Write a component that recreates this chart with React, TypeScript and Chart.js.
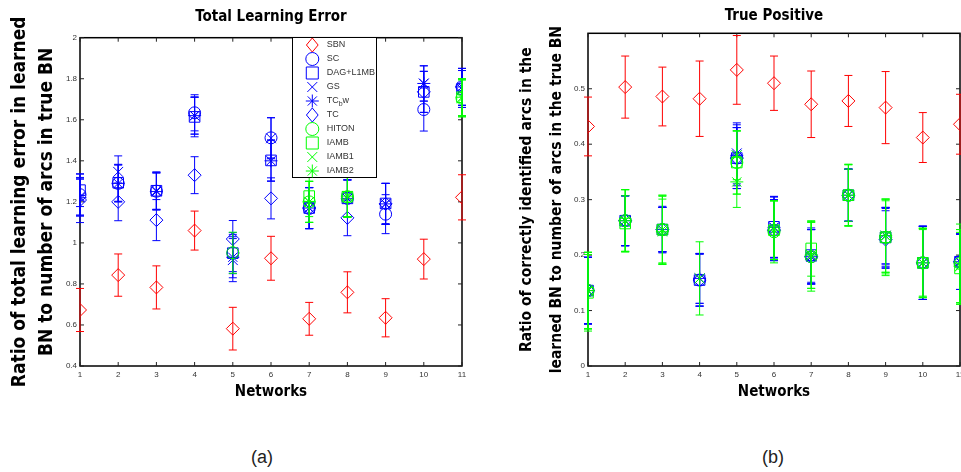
import React, { useEffect, useRef } from 'react';
import { Chart, registerables } from 'chart.js';

Chart.register(...registerables);

// ---------- data ----------
const networks = [1, 2, 3, 4, 5, 6, 7, 8, 9, 10, 11];
const tleTicks = [0.4, 0.6, 0.8, 1, 1.2, 1.4, 1.6, 1.8, 2];
const tpTicks = [0, 0.1, 0.2, 0.3, 0.4, 0.5];

const seriesNames = ['SBN', 'SC', 'DAG+L1MB', 'GS', 'TCbw', 'TC', 'HITON', 'IAMB', 'IAMB1', 'IAMB2'];

// (a) Total Learning Error
const tleSBN = [0.673, 0.843, 0.783, 1.06, 0.582, 0.925, 0.63, 0.759, 0.635, 0.921, 1.222];
const tleSBNErr = [0.105, 0.103, 0.105, 0.095, 0.104, 0.107, 0.08, 0.1, 0.093, 0.097, 0.11];
const tleSC = [1.235, 1.29, 1.252, 1.634, 0.95, 1.512, 1.168, 1.217, 1.14, 1.65, 1.761];
const tleSCErr = [0.1, 0.09, 0.09, 0.088, 0.09, 0.098, 0.1, 0.09, 0.095, 0.105, 0.09];
const tleDAG = [1.257, 1.293, 1.254, 1.614, 0.95, 1.402, 1.17, 1.217, 1.192, 1.736, 1.75];
const tleDAGErr = [0.08, 0.09, 0.092, 0.097, 0.1, 0.1, 0.1, 0.09, 0.098, 0.1, 0.09];
const tleGS = [1.225, 1.346, 1.254, 1.62, 0.916, 1.51, 1.17, 1.217, 1.19, 1.777, 1.75];
const tleGSErr = [0.09, 0.078, 0.09, 0.09, 0.105, 0.1, 0.1, 0.09, 0.1, 0.086, 0.09];
const tleTCbw = [1.22, 1.29, 1.25, 1.62, 0.93, 1.4, 1.17, 1.217, 1.19, 1.777, 1.76];
const tleTCbwErr = [0.09, 0.09, 0.09, 0.09, 0.1, 0.1, 0.1, 0.09, 0.1, 0.086, 0.09];
const tleTC = [1.209, 1.2, 1.111, 1.33, 1.019, 1.217, 1.17, 1.122, 1.19, 1.736, 1.76];
const tleTCErr = [0.11, 0.092, 0.1, 0.09, 0.09, 0.1, 0.1, 0.087, 0.1, 0.1, 0.09];
const tleHITON = [null, null, null, null, 0.952, null, 1.2, 1.225, null, null, 1.705];
const tleHITONErr = [null, null, null, null, 0.1, null, 0.1, 0.1, null, null, 0.09];
const tleIAMB = [null, null, null, null, null, null, 1.228, 1.225, null, null, 1.71];
const tleIAMBErr = [null, null, null, null, null, null, 0.1, 0.1, null, null, 0.09];
const tleIAMB1 = [null, null, null, null, null, null, 1.2, 1.228, null, null, 1.704];
const tleIAMB1Err = [null, null, null, null, null, null, 0.1, 0.1, null, null, 0.09];
const tleIAMB2 = [null, null, null, null, null, null, 1.2, 1.228, null, null, 1.71];
const tleIAMB2Err = [null, null, null, null, null, null, 0.1, 0.1, null, null, 0.09];

// (b) True Positive
const tpSBN = [0.432, 0.503, 0.486, 0.482, 0.534, 0.51, 0.472, 0.478, 0.466, 0.412, 0.436];
const tpSBNErr = [0.053, 0.056, 0.053, 0.068, 0.062, 0.049, 0.06, 0.046, 0.065, 0.045, 0.054];
const tpSC = [0.136, 0.262, 0.246, 0.155, 0.375, 0.245, 0.197, 0.308, 0.232, 0.186, 0.188];
const tpSCErr = [0.06, 0.045, 0.04, 0.047, 0.055, 0.055, 0.049, 0.047, 0.052, 0.066, 0.05];
const tpDAG = [0.136, 0.262, 0.246, 0.155, 0.375, 0.251, 0.2, 0.308, 0.232, 0.186, 0.188];
const tpDAGErr = [0.06, 0.045, 0.042, 0.047, 0.055, 0.055, 0.049, 0.047, 0.054, 0.066, 0.05];
const tpGS = [0.136, 0.262, 0.246, 0.158, 0.3835, 0.25, 0.197, 0.308, 0.235, 0.186, 0.188];
const tpGSErr = [0.06, 0.045, 0.04, 0.045, 0.055, 0.055, 0.049, 0.047, 0.051, 0.066, 0.05];
const tpTCbw = [0.136, 0.262, 0.246, 0.158, 0.38, 0.25, 0.197, 0.308, 0.235, 0.186, 0.188];
const tpTCbwErr = [0.06, 0.045, 0.04, 0.045, 0.055, 0.055, 0.049, 0.047, 0.051, 0.066, 0.05];
const tpTC = [0.136, 0.262, 0.246, 0.155, 0.375, 0.245, 0.197, 0.308, 0.228, 0.186, 0.188];
const tpTCErr = [0.06, 0.045, 0.04, 0.047, 0.055, 0.055, 0.049, 0.047, 0.052, 0.066, 0.05];
const tpHITON = [0.136, 0.262, 0.246, null, 0.367, 0.242, 0.197, 0.308, 0.232, 0.186, 0.185];
const tpHITONErr = [0.069, 0.056, 0.062, null, 0.057, 0.056, 0.062, 0.056, 0.069, 0.063, 0.071];
const tpIAMB = [0.132, 0.257, 0.246, null, 0.367, 0.245, 0.212, 0.308, 0.232, 0.186, 0.176];
const tpIAMBErr = [0.069, 0.05, 0.06, null, 0.057, 0.053, 0.05, 0.047, 0.066, 0.06, 0.065];
const tpIAMB1 = [0.136, 0.262, 0.246, 0.158, 0.38, 0.245, 0.2, 0.308, 0.235, 0.186, 0.18];
const tpIAMB1Err = [0.069, 0.056, 0.062, 0.066, 0.044, 0.053, 0.06, 0.055, 0.066, 0.062, 0.066];
const tpIAMB2 = [0.136, 0.262, 0.242, null, 0.332, 0.245, 0.2, 0.308, 0.235, 0.186, 0.18];
const tpIAMB2Err = [0.069, 0.056, 0.059, null, 0.046, 0.053, 0.06, 0.055, 0.066, 0.062, 0.066];

const tleValues = [tleSBN, tleSC, tleDAG, tleGS, tleTCbw, tleTC, tleHITON, tleIAMB, tleIAMB1, tleIAMB2];
const tleErrors = [tleSBNErr, tleSCErr, tleDAGErr, tleGSErr, tleTCbwErr, tleTCErr, tleHITONErr, tleIAMBErr, tleIAMB1Err, tleIAMB2Err];
const tpValues = [tpSBN, tpSC, tpDAG, tpGS, tpTCbw, tpTC, tpHITON, tpIAMB, tpIAMB1, tpIAMB2];
const tpErrors = [tpSBNErr, tpSCErr, tpDAGErr, tpGSErr, tpTCbwErr, tpTCErr, tpHITONErr, tpIAMBErr, tpIAMB1Err, tpIAMB2Err];

// ---------- styles ----------
const RED = '#ff0000';
const BLUE = '#0000ff';
const GREEN = '#00ff00';
const seriesStyles = [
  { color: RED, marker: 'rectRot', radius: 6.5 },
  { color: BLUE, marker: 'circle', radius: 6 },
  { color: BLUE, marker: 'rect', radius: 7.5 },
  { color: BLUE, marker: 'crossRot', radius: 7 },
  { color: BLUE, marker: 'star', radius: 6.5 },
  { color: BLUE, marker: 'rectRot', radius: 6.5 },
  { color: GREEN, marker: 'circle', radius: 6 },
  { color: GREEN, marker: 'rect', radius: 7.5 },
  { color: GREEN, marker: 'crossRot', radius: 7 },
  { color: GREEN, marker: 'star', radius: 6.5 },
];

const COND = "'DejaVu Sans Condensed', 'DejaVu Sans', sans-serif";
const SANS = "'Liberation Sans', Arial, sans-serif";

function drawMarker(ctx: CanvasRenderingContext2D, kind: string, x: number, y: number, r: number) {
  ctx.beginPath();
  const h = r * Math.SQRT1_2;
  switch (kind) {
    case 'rectRot':
      ctx.moveTo(x, y - r * 1.08);
      ctx.lineTo(x + r * 0.9, y);
      ctx.lineTo(x, y + r * 1.08);
      ctx.lineTo(x - r * 0.9, y);
      ctx.closePath();
      break;
    case 'circle':
      ctx.arc(x, y, r, 0, Math.PI * 2);
      break;
    case 'rect':
      ctx.rect(x - h, y - h, 2 * h, 2 * h);
      break;
    case 'crossRot':
      ctx.moveTo(x - h, y - h); ctx.lineTo(x + h, y + h);
      ctx.moveTo(x - h, y + h); ctx.lineTo(x + h, y - h);
      break;
    case 'star':
      ctx.moveTo(x - r, y); ctx.lineTo(x + r, y);
      ctx.moveTo(x, y - r); ctx.lineTo(x, y + r);
      ctx.moveTo(x - h, y - h); ctx.lineTo(x + h, y + h);
      ctx.moveTo(x - h, y + h); ctx.lineTo(x + h, y - h);
      break;
  }
  ctx.stroke();
}

// ---------- plugins ----------
const framePlugin = {
  id: 'matlabFrame',
  beforeDatasetsDraw(chart: any) {
    const { ctx, chartArea: a, scales } = chart;
    ctx.save();
    ctx.strokeStyle = '#000';
    ctx.lineWidth = 1.5;
    ctx.strokeRect(a.left, a.top, a.right - a.left, a.bottom - a.top);
    ctx.lineWidth = 1;
    ctx.strokeStyle = '#222';
    ctx.beginPath();
    scales.y.ticks.forEach((t: any) => {
      const py = scales.y.getPixelForValue(t.value);
      ctx.moveTo(a.left, py); ctx.lineTo(a.left + 4, py);
      ctx.moveTo(a.right, py); ctx.lineTo(a.right - 4, py);
    });
    scales.x.ticks.forEach((t: any) => {
      const px = scales.x.getPixelForValue(t.value);
      ctx.moveTo(px, a.bottom); ctx.lineTo(px, a.bottom - 4);
      ctx.moveTo(px, a.top); ctx.lineTo(px, a.top + 4);
    });
    ctx.stroke();
    ctx.restore();
  },
};

const errorBarPlugin = {
  id: 'errorBars',
  afterDatasetDraw(chart: any, args: any) {
    const ds = chart.data.datasets[args.index];
    const errs = ds.errorBars as (number | null)[];
    if (!errs) return;
    const xs = chart.scales.x;
    const ys = chart.scales.y;
    const ctx = chart.ctx as CanvasRenderingContext2D;
    ctx.save();
    ctx.strokeStyle = ds.borderColor;
    ctx.lineWidth = 1;
    ctx.beginPath();
    ds.data.forEach((p: any, j: number) => {
      const e = errs[j];
      if (p.y == null || e == null) return;
      const px = xs.getPixelForValue(p.x);
      const top = ys.getPixelForValue(p.y + e);
      const bot = ys.getPixelForValue(p.y - e);
      ctx.moveTo(px, top); ctx.lineTo(px, bot);
      ctx.moveTo(px - 4, top); ctx.lineTo(px + 4, top);
      ctx.moveTo(px - 4, bot); ctx.lineTo(px + 4, bot);
    });
    ctx.stroke();
    ctx.restore();
  },
};

const legendPlugin = {
  id: 'matlabLegend',
  afterDraw(chart: any, _args: any, opts: any) {
    if (!opts || !opts.show) return;
    const ctx = chart.ctx as CanvasRenderingContext2D;
    const { x, y, w, h, rowTop, rowStep, markerX, textX } = opts;
    ctx.save();
    ctx.fillStyle = '#fff';
    ctx.fillRect(x, y, w, h);
    ctx.strokeStyle = '#000';
    ctx.lineWidth = 1;
    ctx.strokeRect(x, y, w, h);
    seriesNames.forEach((name, i) => {
      const st = seriesStyles[i];
      const cy = rowTop + i * rowStep;
      ctx.strokeStyle = st.color;
      ctx.lineWidth = 1;
      const legendR = st.marker === 'rect' ? 8.5 : st.marker === 'circle' ? 6.5 : st.radius;
      drawMarker(ctx, st.marker, markerX, cy, legendR);
      ctx.fillStyle = '#333';
      ctx.textBaseline = 'middle';
      ctx.textAlign = 'left';
      ctx.font = `9px ${SANS}`;
      if (name === 'TCbw') {
        ctx.fillText('TC', textX, cy);
        const w1 = ctx.measureText('TC').width;
        ctx.font = `7px ${SANS}`;
        ctx.fillText('b', textX + w1, cy + 3);
        const w2 = ctx.measureText('b').width;
        ctx.font = `9px ${SANS}`;
        ctx.fillText('w', textX + w1 + w2, cy);
      } else {
        ctx.fillText(name, textX, cy);
      }
    });
    ctx.restore();
  },
};

// ---------- config ----------
function buildDatasets(values: (number | null)[][], errors: (number | null)[][]) {
  return values.map((vals, i) => ({
    label: seriesNames[i],
    data: networks.map((n, j) => ({ x: n, y: vals[j] })),
    errorBars: errors[i],
    pointStyle: seriesStyles[i].marker,
    pointRadius: seriesStyles[i].radius,
    pointHoverRadius: seriesStyles[i].radius,
    borderColor: seriesStyles[i].color,
    pointBorderColor: seriesStyles[i].color,
    backgroundColor: 'rgba(0,0,0,0)',
    pointBackgroundColor: 'rgba(0,0,0,0)',
    pointBorderWidth: 1,
    showLine: false,
    order: values.length - i,
  }));
}

interface PanelOpts {
  title: string;
  titlePad: { top: number; bottom: number };
  yTitle: string[];
  yTitleSize: number;
  yTitleLineHeight: number;
  yTitlePadTop: number;
  yMin: number;
  yMax: number;
  yTicks: number[];
  yWidth: number;
  padRight: number;
  values: (number | null)[][];
  errors: (number | null)[][];
  legend: any;
}

function makeConfig(o: PanelOpts): any {
  return {
    type: 'scatter',
    data: { datasets: buildDatasets(o.values, o.errors) },
    options: {
      animation: false,
      responsive: false,
      maintainAspectRatio: false,
      events: [],
      layout: { autoPadding: false, padding: { left: 0, right: o.padRight, top: 0, bottom: 0 } },
      plugins: {
        legend: { display: false },
        tooltip: { enabled: false },
        title: {
          display: true,
          text: o.title,
          fullSize: false,
          color: '#000',
          font: { family: COND, size: 15, weight: 'bold', lineHeight: 1.2 },
          padding: o.titlePad,
        },
        matlabLegend: o.legend,
      },
      scales: {
        x: {
          type: 'linear',
          min: 1,
          max: 11,
          grid: { display: false, drawTicks: false },
          border: { display: false },
          ticks: {
            padding: 4,
            autoSkip: false,
            maxRotation: 0,
            color: '#333',
            font: { family: SANS, size: 8 },
            callback: (v: any) => String(v),
          },
          afterBuildTicks: (s: any) => { s.ticks = networks.map((v) => ({ value: v })); },
          afterFit: (s: any) => { s.height = 54; s.paddingLeft = 0; s.paddingRight = 0; },
          title: {
            display: true,
            text: 'Networks',
            color: '#000',
            font: { family: COND, size: 15, weight: 'bold', lineHeight: 1.2 },
            padding: { top: 0, bottom: 19 },
          },
        },
        y: {
          type: 'linear',
          min: o.yMin,
          max: o.yMax,
          grid: { display: false, drawTicks: false },
          border: { display: false },
          ticks: {
            padding: 3,
            autoSkip: false,
            color: '#333',
            font: { family: SANS, size: 8 },
            callback: (v: any) => String(v),
          },
          afterBuildTicks: (s: any) => { s.ticks = o.yTicks.map((v) => ({ value: v })); },
          afterFit: (s: any) => { s.width = o.yWidth; s.paddingTop = 0; s.paddingBottom = 0; },
          title: {
            display: true,
            text: o.yTitle,
            color: '#000',
            font: { family: COND, size: o.yTitleSize, weight: 'bold', lineHeight: o.yTitleLineHeight },
            padding: { top: o.yTitlePadTop, bottom: 0 },
          },
        },
      },
    },
    plugins: [framePlugin, errorBarPlugin, legendPlugin],
  };
}

export default function App() {
  const refA = useRef<HTMLCanvasElement>(null);
  const refB = useRef<HTMLCanvasElement>(null);

  useEffect(() => {
    const chartA = new Chart(refA.current as HTMLCanvasElement, makeConfig({
      title: 'Total Learning Error',
      titlePad: { top: 8, bottom: 11.7 },
      yTitle: ['Ratio of total learning error in learned', 'BN to number of arcs in true BN'],
      yTitleSize: 19,
      yTitleLineHeight: 1.42,
      yTitlePadTop: 6.5,
      yMin: 0.4,
      yMax: 2,
      yTicks: tleTicks,
      yWidth: 80,
      padRight: 18,
      values: tleValues,
      errors: tleErrors,
      legend: { show: true, x: 292.5, y: 37.5, w: 84, h: 140, rowTop: 45, rowStep: 14, markerX: 312.3, textX: 326.7 },
    }));
    const chartB = new Chart(refB.current as HTMLCanvasElement, makeConfig({
      title: 'True Positive',
      titlePad: { top: 7, bottom: 8.3 },
      yTitle: ['Ratio of correctly identified arcs in the', 'learned BN to number of arcs in the true BN'],
      yTitleSize: 15.5,
      yTitleLineHeight: 1.935,
      yTitlePadTop: 31.7,
      yMin: 0,
      yMax: 0.6,
      yTicks: tpTicks,
      yWidth: 108,
      padRight: 1,
      values: tpValues,
      errors: tpErrors,
      legend: { show: false },
    }));
    return () => { chartA.destroy(); chartB.destroy(); };
  }, []);

  const capStyle: React.CSSProperties = {
    position: 'absolute',
    top: 446,
    width: 60,
    textAlign: 'center',
    font: `18px ${SANS}`,
    lineHeight: '22px',
    color: '#222',
  };

  return (
    <div style={{ position: 'absolute', left: 0, top: 0, width: 961, height: 472, overflow: 'hidden', background: '#fff' }}>
      <canvas ref={refA} width={480} height={420} style={{ position: 'absolute', left: 0, top: 0, width: 480, height: 420 }} />
      <canvas ref={refB} width={481} height={420} style={{ position: 'absolute', left: 480, top: 0, width: 481, height: 420 }} />
      <div style={{ ...capStyle, left: 232 }}>(a)</div>
      <div style={{ ...capStyle, left: 743 }}>(b)</div>
    </div>
  );
}
